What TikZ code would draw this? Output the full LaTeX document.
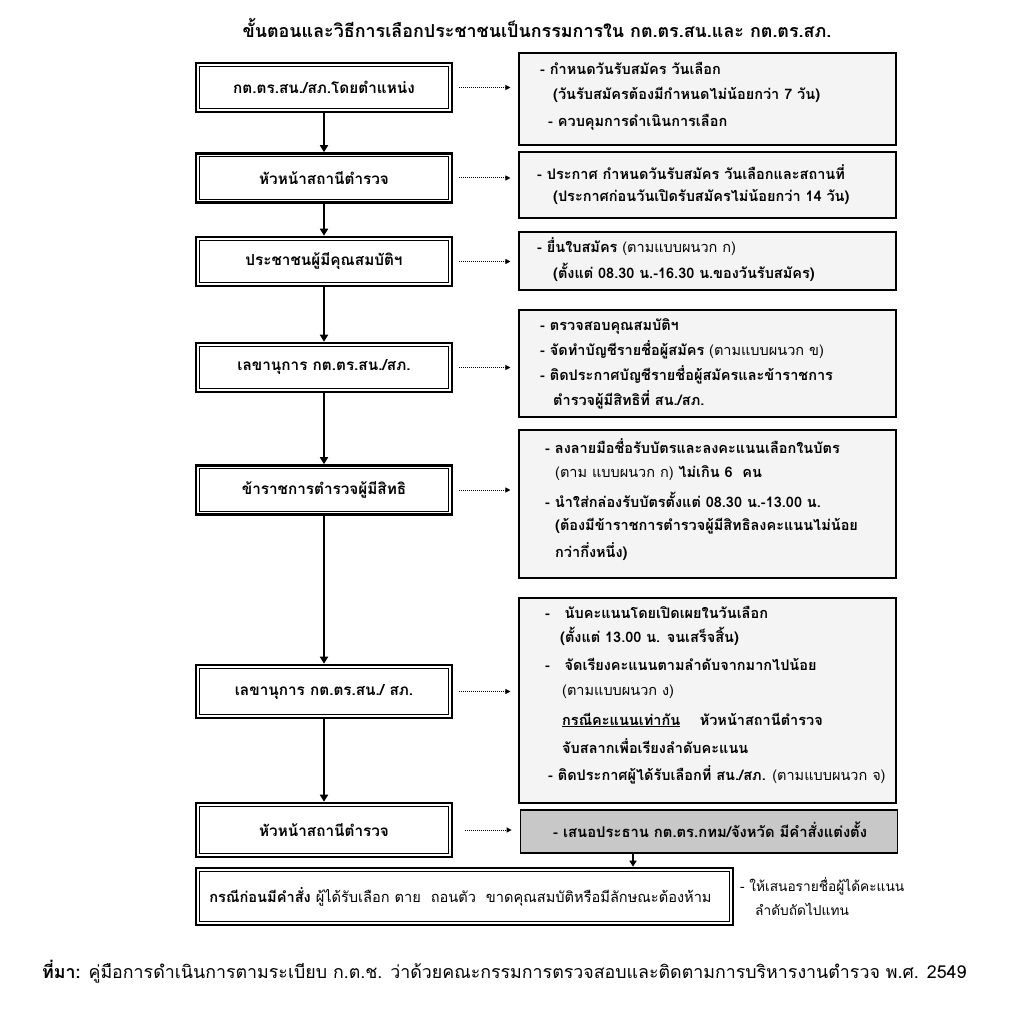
\documentclass[tikz,border=0pt]{standalone}
\usepackage{fontspec}
\setmainfont{Liberation Sans}
\newfontfamily\thf[Script=Thai]{Loma}
\usetikzlibrary{arrows.meta}
\definecolor{boxfill}{HTML}{F4F4F4}
\definecolor{grayfill}{HTML}{C8C8C8}
\begin{document}
\begin{tikzpicture}[x=1pt,y=-1pt,
  lbox/.style={draw, line width=2.6pt, fill=white, minimum width=256pt, minimum height=49pt, inner sep=0pt, font=\thf\bfseries\fontsize{15.3}{18}\selectfont},
  rbox/.style={draw, line width=1.1pt, fill=boxfill, minimum width=377pt, inner sep=0pt},
  rt/.style={anchor=west, inner sep=0pt, font=\thf\bfseries\fontsize{14.5}{17}\selectfont},
  varrow/.style={line width=2.4pt, -{Triangle[width=8pt,length=7pt]}},
  darrow/.style={line width=1pt, densely dotted, -{Triangle[width=5pt,length=5pt]}, shorten >=8pt, shorten <=6pt}]
\path[use as bounding box, fill=white] (0,0) rectangle (1019,1024);
% title
\node[font=\thf\bfseries\fontsize{17.9}{20}\selectfont] (title) at (537,28) {ขั้นตอนและวิธีการเลือกประชาชนเป็นกรรมการใน กต.ตร.สน.และ กต.ตร.สภ.};
% left boxes
\node[lbox] (l1) at (324,87.5) {กต.ตร.สน./สภ.โดยตำแหน่ง};
\node[lbox] (l2) at (324,178) {หัวหน้าสถานีตำรวจ};
\node[lbox] (l3) at (324,261.5) {ประชาชนผู้มีคุณสมบัติฯ};
\node[lbox] (l4) at (324,367.5) {เลขานุการ กต.ตร.สน./สภ.};
\node[lbox] (l5) at (324,490) {ข้าราชการตำรวจผู้มีสิทธิ};
\node[lbox, minimum height=53pt] (l6) at (324,691.5) {เลขานุการ กต.ตร.สน./ สภ.};
\node[lbox, minimum height=54pt] (l7) at (324,830) {หัวหน้าสถานีตำรวจ};
\node[lbox, minimum width=537pt, minimum height=57pt, font=\thf\fontsize{14.6}{17}\selectfont] (b) at (464.5,896.5) {{\bfseries กรณีก่อนมีคำสั่ง} ผู้ได้รับเลือก ตาย\ \ ถอนตัว\ \ ขาดคุณสมบัติหรือมีลักษณะต้องห้าม\hspace*{8pt}};
\foreach \n in {l1,l2,l3,l4,l5,l6,l7,b}
  \draw[line width=0.7pt] ([shift={(4.5pt,-4.5pt)}]\n.north west) rectangle ([shift={(-4.5pt,4.5pt)}]\n.south east);
% right boxes
\node[rbox, minimum height=92pt] (r1) at (707.5,99) {};
\node[rbox, minimum height=66pt] (r2) at (707.5,185) {};
\node[rbox, minimum height=58pt] (r3) at (707.5,261) {};
\node[rbox, minimum height=107pt] (r4) at (707.5,363.5) {};
\node[rbox, minimum height=148pt] (r5) at (707.5,504) {};
\node[rbox, minimum height=205pt] (r6) at (707.5,700.5) {};
\node[rbox, minimum height=43pt, fill=grayfill, line width=1.8pt] (g) at (709,831.5) {};
% right texts
\node[rt] (t1a) at (540,68) {- กำหนดวันรับสมัคร วันเลือก};
\node[rt] (t1b) at (553,95) {(วันรับสมัครต้องมีกำหนดไม่น้อยกว่า 7 วัน)};
\node[rt] (t1c) at (548,122) {- ควบคุมการดำเนินการเลือก};
\node[rt] (t2a) at (537,172) {- ประกาศ กำหนดวันรับสมัคร วันเลือกและสถานที่};
\node[rt] (t2b) at (553,197) {(ประกาศก่อนวันเปิดรับสมัครไม่น้อยกว่า 14 วัน)};
\node[rt] (t3a) at (537,247) {- ยื่นใบสมัคร {\mdseries (ตามแบบผนวก ก)}};
\node[rt] (t3b) at (553,272) {(ตั้งแต่ 08.30 น.-16.30 น.ของวันรับสมัคร)};
\node[rt] (t4a) at (540,326) {- ตรวจสอบคุณสมบัติฯ};
\node[rt] (t4b) at (540,350) {- จัดทำบัญชีรายชื่อผู้สมัคร {\mdseries (ตามแบบผนวก ข)}};
\node[rt] (t4c) at (540,375) {- ติดประกาศบัญชีรายชื่อผู้สมัครและข้าราชการ};
\node[rt] (t4d) at (553,400) {ตำรวจผู้มีสิทธิที่ สน./สภ.};
\node[rt] (t5a) at (545,446) {- ลงลายมือชื่อรับบัตรและลงคะแนนเลือกในบัตร};
\node[rt] (t5b) at (555,473) {{\mdseries (ตาม แบบผนวก ก)} ไม่เกิน 6\ \ คน};
\node[rt] (t5c) at (545,500) {- นำใส่กล่องรับบัตรตั้งแต่ 08.30 น.-13.00 น.};
\node[rt] (t5d) at (555,526) {(ต้องมีข้าราชการตำรวจผู้มีสิทธิลงคะแนนไม่น้อย};
\node[rt] (t5e) at (555,552) {กว่ากึ่งหนึ่ง)};
\node[rt] (t6a) at (545,612) {-\ \ \ นับคะแนนโดยเปิดเผยในวันเลือก};
\node[rt] (t6b) at (560,636) {(ตั้งแต่ 13.00 น. จนเสร็จสิ้น)};
\node[rt] (t6c) at (545,664) {-\ \ \ จัดเรียงคะแนนตามลำดับจากมากไปน้อย};
\node[rt, font=\thf\fontsize{14.5}{17}\selectfont] (t6d) at (562,692) {(ตามแบบผนวก ง)};
\node[rt] (t6e) at (562,720) {\underline{กรณีคะแนนเท่ากัน}\ \ \ \ หัวหน้าสถานีตำรวจ};
\node[rt] (t6f) at (562,746) {จับสลากเพื่อเรียงลำดับคะแนน};
\node[rt] (t6g) at (548,775) {- ติดประกาศผู้ได้รับเลือกที่ สน./สภ. {\mdseries (ตามแบบผนวก จ)}};
\node[rt, font=\thf\bfseries\fontsize{14.8}{17}\selectfont] (tg) at (553,830) {- เสนอประธาน กต.ตร.กทม/จังหวัด มีคำสั่งแต่งตั้ง};
% note
\node[anchor=north west, align=left, inner sep=0pt, font=\thf\fontsize{13.7}{24}\selectfont] (note) at (740,877) {- ให้เสนอรายชื่อผู้ได้คะแนน\\\hspace*{15pt}ลำดับถัดไปแทน};
% footer
\node[anchor=west, inner sep=0pt, font=\thf\fontsize{17.8}{20}\selectfont] (src) at (42,972) {{\bfseries ที่มา:} คู่มือการดำเนินการตามระเบียบ ก.ต.ช. ว่าด้วยคณะกรรมการตรวจสอบและติดตามการบริหารงานตำรวจ พ.ศ. 2549};
% arrows
\draw[varrow] (l1.south) -- (l2.north);
\draw[varrow] (l2.south) -- (l3.north);
\draw[varrow] (l3.south) -- (l4.north);
\draw[varrow] (l4.south) -- (l5.north);
\draw[varrow] (l5.south) -- (l6.north);
\draw[varrow] (l6.south) -- (l7.north);
\coordinate (gx) at (633,0);
\draw[varrow, line width=2pt, -{Triangle[width=7pt,length=6pt]}] (g.south -| gx) -- (b.north -| gx);
\foreach \a/\bb in {l1/r1,l2/r2,l3/r3,l4/r4,l5/r5,l6/r6}
  \draw[darrow] (\a.east) -- (\a.east -| \bb.west);
\draw[darrow, shorten <=12pt] (l7.east) -- (l7.east -| g.west);
\end{tikzpicture}
\end{document}
